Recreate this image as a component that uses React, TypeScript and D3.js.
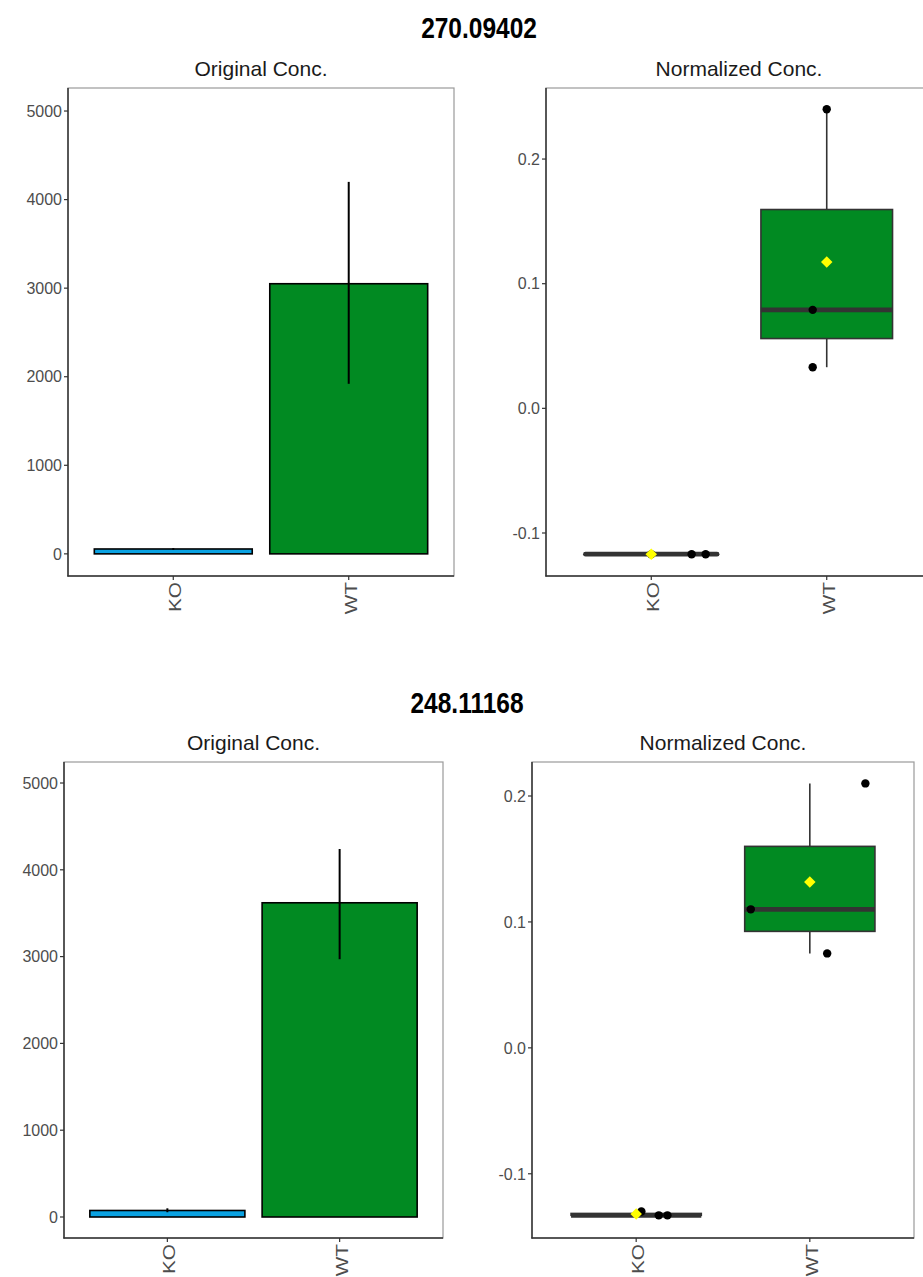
import React from "react";
import * as d3 from "d3";

const groups = ["KO", "WT"];
const titles = ["270.09402", "248.11168"];
const subtitles = ["Original Conc.", "Normalized Conc."];

// Original concentration: mean bars with error bar (low/high)
const orig1Mean = [55, 3050];
const orig1Low = [45, 1920];
const orig1High = [65, 4200];
const orig2Mean = [75, 3620];
const orig2Low = [55, 2970];
const orig2High = [100, 4240];
const origTicks = [0, 1000, 2000, 3000, 4000, 5000];
const orig1Domain = [-250, 5260];
const orig2Domain = [-242, 5242];

// Normalized concentration: individual samples + jitter offsets (band units)
const norm1KO = [-0.117, -0.117, -0.117];
const norm1WT = [0.24, 0.079, 0.033];
const jit1KO = [0.0, 0.23, 0.31];
const jit1WT = [0.0, -0.08, -0.08];
const norm2KO = [-0.13, -0.133, -0.133];
const norm2WT = [0.21, 0.11, 0.075];
const jit2KO = [0.03, 0.13, 0.18];
const jit2WT = [0.32, -0.34, 0.1];
const normTicks = [-0.1, 0.0, 0.1, 0.2];
const norm1Domain = [-0.1345, 0.257];
const norm2Domain = [-0.151, 0.227];

const colors = ["#0AA2E2", "#018A22"];
const FONT = "Liberation Sans, Arial, sans-serif";
const TICK_COLOR = "#4D4D4D";

type Box = { x0: number; x1: number; y0: number; y1: number };

function Frame({ box, y, ticks, fmt, x }: { box: Box; y: any; ticks: number[]; fmt: (v: number) => string; x: any }) {
  return (
    <g>
      <rect x={box.x0} y={box.y0} width={box.x1 - box.x0} height={box.y1 - box.y0} fill="white" stroke="#9a9a9a" strokeWidth={1.2} />
      <line x1={box.x0} x2={box.x0} y1={box.y0} y2={box.y1 + 0.6} stroke="#333" strokeWidth={1.5} />
      <line x1={box.x0 - 0.6} x2={box.x1} y1={box.y1} y2={box.y1} stroke="#333" strokeWidth={1.5} />
      {ticks.map((t) => (
        <g key={t}>
          <line x1={box.x0 - 4} x2={box.x0} y1={y(t)} y2={y(t)} stroke="#333" strokeWidth={1.2} />
          <text x={box.x0 - 6} y={y(t)} dy="0.36em" textAnchor="end" fontSize={16} fill={TICK_COLOR} fontFamily={FONT}>
            {fmt(t)}
          </text>
        </g>
      ))}
      {groups.map((g) => (
        <g key={g}>
          <line x1={x(g)} x2={x(g)} y1={box.y1} y2={box.y1 + 4} stroke="#333" strokeWidth={1.2} />
          <text
            transform={`translate(${x(g) + 2},${box.y1 + 6}) rotate(-90) scale(1.22,1)`}
            textAnchor="end"
            dy="0.36em"
            fontSize={17}
            fill={TICK_COLOR}
            fontFamily={FONT}
          >
            {g}
          </text>
        </g>
      ))}
    </g>
  );
}

function makeX(box: Box) {
  // ggplot discrete expansion 0.6 units each side
  const unit = (box.x1 - box.x0) / 2.2;
  const f: any = (g: string) => box.x0 + unit * (0.6 + groups.indexOf(g));
  f.unit = unit;
  return f;
}

function BarPanel({ box, mean, low, high, domain }: { box: Box; mean: number[]; low: number[]; high: number[]; domain: number[] }) {
  const x = makeX(box);
  const y = d3.scaleLinear().domain(domain).range([box.y1, box.y0]);
  const bw = x.unit * 0.9;
  return (
    <g>
      <Frame box={box} y={y} ticks={origTicks} fmt={(v) => String(v)} x={x} />
      {groups.map((g, i) => (
        <g key={g}>
          <rect
            x={x(g) - bw / 2}
            y={y(mean[i])}
            width={bw}
            height={y(0) - y(mean[i])}
            fill={colors[i]}
            stroke="#000"
            strokeWidth={1.6}
          />
          <line x1={x(g)} x2={x(g)} y1={y(low[i])} y2={y(high[i])} stroke="#000" strokeWidth={2} />
        </g>
      ))}
    </g>
  );
}

function BoxPanel({ box, data, jit, domain }: { box: Box; data: number[][]; jit: number[][]; domain: number[] }) {
  const x = makeX(box);
  const y = d3.scaleLinear().domain(domain).range([box.y1, box.y0]);
  const bw = x.unit * 0.75;
  const diamond = d3.symbol().type(d3.symbolSquare).size(66)();
  return (
    <g>
      <Frame box={box} y={y} ticks={normTicks} fmt={(v) => v.toFixed(1)} x={x} />
      {groups.map((g, i) => {
        const vals = data[i].slice().sort(d3.ascending);
        const q1 = d3.quantile(vals, 0.25) as number;
        const med = d3.quantile(vals, 0.5) as number;
        const q3 = d3.quantile(vals, 0.75) as number;
        const iqr = q3 - q1;
        const lo = d3.min(vals.filter((v) => v >= q1 - 1.5 * iqr)) as number;
        const hi = d3.max(vals.filter((v) => v <= q3 + 1.5 * iqr)) as number;
        const mean = d3.mean(vals) as number;
        const cx = x(g);
        const flat = y(q1) - y(q3) < 1;
        return (
          <g key={g}>
            <line x1={cx} x2={cx} y1={y(hi)} y2={y(q3)} stroke="#333" strokeWidth={1.6} />
            <line x1={cx} x2={cx} y1={y(q1)} y2={y(lo)} stroke="#333" strokeWidth={1.6} />
            <rect
              x={cx - bw / 2}
              y={y(q3)}
              width={bw}
              height={Math.max(0, y(q1) - y(q3))}
              fill={colors[1]}
              stroke="#333"
              strokeWidth={1.6}
            />
            <line
              x1={cx - bw / 2}
              x2={cx + bw / 2}
              y1={y(med)}
              y2={y(med)}
              stroke="#333"
              strokeWidth={4.8}
              strokeLinecap={flat ? "round" : "butt"}
            />
            {data[i].map((v, k) => (
              <circle key={k} cx={cx + jit[i][k] * x.unit} cy={y(v)} r={4.2} fill="#000" />
            ))}
            <path d={diamond} transform={`translate(${cx},${y(mean)}) rotate(45)`} fill="#FFFF00" />
          </g>
        );
      })}
    </g>
  );
}

const rows = [
  {
    title: titles[0],
    titleX: 479,
    titleY: 38.3,
    subY: 76,
    left: { x0: 68, x1: 454, y0: 88, y1: 576 },
    right: { x0: 546, x1: 932, y0: 88, y1: 576 },
    mean: orig1Mean,
    low: orig1Low,
    high: orig1High,
    oDomain: orig1Domain,
    norm: [norm1KO, norm1WT],
    jit: [jit1KO, jit1WT],
    nDomain: norm1Domain,
  },
  {
    title: titles[1],
    titleX: 467,
    titleY: 712.5,
    subY: 750,
    left: { x0: 64, x1: 443, y0: 762, y1: 1238 },
    right: { x0: 532, x1: 914, y0: 762, y1: 1238 },
    mean: orig2Mean,
    low: orig2Low,
    high: orig2High,
    oDomain: orig2Domain,
    norm: [norm2KO, norm2WT],
    jit: [jit2KO, jit2WT],
    nDomain: norm2Domain,
  },
];

export default function App() {
  return (
    <svg
      width={923}
      height={1277}
      style={{ position: "absolute", left: 0, top: 0, background: "white" }}
      fontFamily={FONT}
    >
      <rect width={923} height={1277} fill="white" />
      {rows.map((r, ri) => (
        <g key={ri}>
          <text
            transform={`translate(${r.titleX},${r.titleY}) scale(1,1.2)`}
            textAnchor="middle"
            fontSize={24.5}
            fontWeight="bold"
            fill="#000"
          >
            {r.title}
          </text>
          <text x={(r.left.x0 + r.left.x1) / 2} y={r.subY} textAnchor="middle" fontSize={21} fill="#1a1a1a">
            {subtitles[0]}
          </text>
          <text x={(r.right.x0 + r.right.x1) / 2} y={r.subY} textAnchor="middle" fontSize={21} fill="#1a1a1a">
            {subtitles[1]}
          </text>
          <BarPanel box={r.left} mean={r.mean} low={r.low} high={r.high} domain={r.oDomain} />
          <BoxPanel box={r.right} data={r.norm} jit={r.jit} domain={r.nDomain} />
        </g>
      ))}
    </svg>
  );
}
